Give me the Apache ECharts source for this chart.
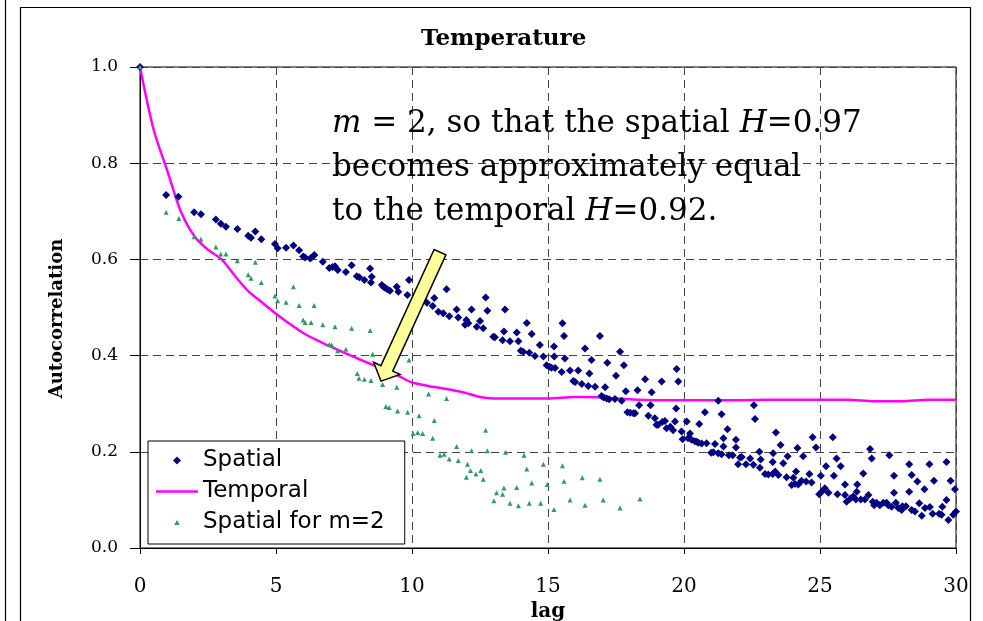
<!DOCTYPE html>
<html><head><meta charset="utf-8">
<script src="https://cdn.jsdelivr.net/npm/echarts@6/dist/echarts.min.js"></script>
<style>html,body{margin:0;padding:0;background:#fff}#c{width:983px;height:621px}</style>
</head><body><div id="c"></div>
<script>
// ---------- data ----------
const titleText = 'Temperature';
const xTickValues = [0, 5, 10, 15, 20, 25, 30];
const yTickLabels = ['0.0', '0.2', '0.4', '0.6', '0.8', '1.0'];

const lagSpatial = [0,0.96,1.41,1.99,2.24,2.79,2.97,3.16,3.58,3.98,4.08,4.24,4.46,4.96,5.06,5.37,5.64,5.85,6.00,6.07,6.26,6.35,6.41,6.72,6.96,7.08,7.17,7.27,7.57,7.78,7.97,8.06,8.25,8.46,8.49,8.52,8.89,8.95,9.01,9.09,9.19,9.44,9.50,9.83,9.89,10.3,10.55,10.76,10.82,10.97,11.15,11.27,11.37,11.64,11.70,11.95,12.00,12.07,12.19,12.38,12.50,12.62,12.71,12.77,12.99,13.05,13.33,13.38,13.42,13.60,13.85,13.91,14.00,14.09,14.22,14.31,14.40,14.52,14.70,14.83,14.95,15.05,15.13,15.22,15.23,15.26,15.50,15.53,15.59,15.62,15.81,15.93,16.00,16.11,16.24,16.36,16.48,16.52,16.60,16.73,16.91,16.97,17.05,17.10,17.16,17.18,17.25,17.46,17.50,17.65,17.71,17.79,17.86,17.92,18.02,18.14,18.20,18.29,18.35,18.57,18.69,18.77,18.81,18.93,18.99,19.05,19.18,19.20,19.30,19.36,19.50,19.60,19.67,19.71,19.73,19.79,19.91,19.95,20.10,20.15,20.22,20.28,20.40,20.47,20.53,20.56,20.65,20.77,20.83,21.00,21.08,21.14,21.26,21.26,21.38,21.38,21.45,21.45,21.60,21.65,21.79,21.91,21.91,21.99,22.06,22.12,22.28,22.43,22.55,22.57,22.61,22.77,22.79,22.82,22.98,23.10,23.26,23.26,23.28,23.35,23.38,23.47,23.55,23.65,23.77,23.81,23.96,24.02,24.08,24.12,24.17,24.20,24.32,24.38,24.49,24.61,24.69,24.73,24.85,24.97,25.03,25.06,25.18,25.22,25.31,25.47,25.51,25.61,25.64,25.76,25.92,25.92,25.98,26.12,26.22,26.32,26.35,26.37,26.50,26.59,26.65,26.78,26.84,26.90,26.94,26.99,27.08,27.20,27.33,27.45,27.51,27.55,27.63,27.72,27.72,27.79,27.88,28.00,28.03,28.16,28.28,28.28,28.37,28.37,28.49,28.58,28.65,28.74,28.84,28.86,29.02,29.04,29.14,29.19,29.38,29.47,29.50,29.65,29.65,29.72,29.80,29.90,29.96,30.00];
const valSpatial = [1.0,0.734,0.730,0.698,0.694,0.683,0.674,0.668,0.663,0.649,0.645,0.658,0.642,0.632,0.623,0.624,0.629,0.619,0.606,0.604,0.602,0.606,0.609,0.595,0.582,0.584,0.586,0.578,0.574,0.588,0.565,0.563,0.557,0.581,0.552,0.564,0.547,0.543,0.541,0.538,0.535,0.543,0.533,0.526,0.557,0.518,0.510,0.503,0.520,0.491,0.488,0.538,0.482,0.496,0.479,0.464,0.474,0.467,0.496,0.460,0.472,0.457,0.521,0.493,0.439,0.438,0.432,0.450,0.496,0.430,0.448,0.430,0.410,0.408,0.468,0.406,0.445,0.399,0.422,0.398,0.380,0.377,0.375,0.419,0.398,0.374,0.366,0.467,0.441,0.394,0.369,0.347,0.345,0.369,0.341,0.415,0.337,0.363,0.391,0.335,0.441,0.316,0.313,0.334,0.311,0.385,0.309,0.310,0.358,0.408,0.306,0.380,0.326,0.282,0.281,0.280,0.280,0.328,0.297,0.351,0.275,0.297,0.324,0.270,0.256,0.256,0.346,0.262,0.264,0.249,0.252,0.245,0.263,0.290,0.372,0.346,0.242,0.226,0.263,0.228,0.238,0.225,0.222,0.221,0.219,0.258,0.217,0.282,0.218,0.198,0.199,0.216,0.306,0.197,0.278,0.195,0.228,0.211,0.247,0.193,0.193,0.225,0.209,0.174,0.188,0.189,0.174,0.186,0.173,0.297,0.268,0.200,0.167,0.184,0.154,0.153,0.154,0.179,0.197,0.159,0.240,0.152,0.214,0.176,0.147,0.191,0.131,0.146,0.133,0.159,0.208,0.132,0.140,0.191,0.138,0.154,0.136,0.230,0.209,0.112,0.150,0.117,0.124,0.170,0.115,0.230,0.150,0.186,0.112,0.170,0.132,0.110,0.096,0.103,0.107,0.101,0.117,0.132,0.101,0.155,0.101,0.110,0.206,0.186,0.096,0.089,0.094,0.089,0.094,0.094,0.089,0.193,0.086,0.150,0.115,0.094,0.083,0.079,0.087,0.087,0.174,0.117,0.152,0.079,0.076,0.138,0.093,0.067,0.122,0.083,0.174,0.085,0.071,0.140,0.071,0.069,0.086,0.179,0.100,0.058,0.140,0.069,0.122,0.076];

const lagTemporal = [0,0.5,1,1.5,2,2.5,3,3.5,4,4.5,5,5.5,6,6.5,7,7.5,8,8.5,9,9.5,10,10.5,11,11.5,12,12.5,13,14,15,16,17,18,19,20,21,22,23,24,25,26,27,28,29,30];
const valTemporal = [1.0,0.87,0.785,0.70,0.648,0.62,0.60,0.565,0.533,0.51,0.487,0.466,0.447,0.432,0.419,0.406,0.394,0.382,0.370,0.358,0.344,0.338,0.333,0.328,0.322,0.314,0.311,0.311,0.311,0.314,0.313,0.309,0.307,0.307,0.307,0.307,0.308,0.308,0.308,0.308,0.305,0.305,0.308,0.308];

const lagM2 = [0,0.96,1.43,1.99,2.24,2.79,2.97,3.16,3.58,3.98,4.08,4.24,4.46,4.96,5.06,5.37,5.64,5.85,6.00,6.07,6.29,6.40,6.72,6.96,7.05,7.17,7.27,7.57,7.78,7.99,8.05,8.25,8.46,8.49,8.55,8.92,9.04,9.16,9.44,9.47,9.84,9.89,10.04,10.21,10.26,10.39,10.61,10.76,10.82,11.03,11.18,11.27,11.37,11.64,11.70,12.00,12.04,12.15,12.19,12.35,12.53,12.62,12.71,12.77,13.01,13.11,13.33,13.38,13.44,13.60,13.85,13.91,14.12,14.22,14.31,14.40,14.73,14.83,14.97,15.22,15.53,15.59,15.81,16.26,16.36,16.91,17.03,17.65,18.38];
const valM2 = [1.0,0.698,0.685,0.647,0.642,0.626,0.611,0.611,0.597,0.568,0.561,0.594,0.552,0.524,0.514,0.511,0.543,0.504,0.474,0.469,0.469,0.504,0.464,0.423,0.422,0.460,0.410,0.413,0.457,0.363,0.353,0.351,0.452,0.348,0.403,0.340,0.294,0.292,0.334,0.285,0.282,0.391,0.238,0.240,0.275,0.238,0.320,0.228,0.265,0.193,0.195,0.311,0.185,0.211,0.182,0.147,0.174,0.161,0.202,0.154,0.161,0.143,0.245,0.202,0.098,0.115,0.112,0.125,0.199,0.093,0.126,0.088,0.193,0.164,0.093,0.135,0.093,0.174,0.132,0.080,0.171,0.139,0.100,0.146,0.089,0.143,0.100,0.083,0.102];

const arrowTip = [8.86, 0.347];
const arrowTail = [11.03, 0.615];

// ---------- chart ----------
const zip = (a, b) => a.map((x, i) => [x, b[i]]);
const chart = echarts.init(document.getElementById('c'), null, {renderer: 'canvas'});
const serif = 'DejaVu Serif';

const option = {
  animation: false,
  backgroundColor: '#fff',
  title: {
    text: titleText, left: 421, top: 28, padding: 0,
    textStyle: {fontFamily: serif, fontWeight: 'bold', fontSize: 23, color: '#000'}
  },
  grid: {left: 140, right: 27, top: 67, bottom: 73, containLabel: false, outerBoundsMode: 'none',
    show: true, borderColor: '#000', borderWidth: 1, backgroundColor: 'transparent'},
  xAxis: {
    type: 'value', min: 0, max: 30, interval: 5,
    name: 'lag', nameLocation: 'middle', nameGap: 40,
    nameTextStyle: {fontFamily: serif, fontWeight: 'bold', fontSize: 20, color: '#000'},
    axisLine: {lineStyle: {color: '#000', width: 1}},
    axisTick: {show: true, length: 6, lineStyle: {color: '#000'}},
    axisLabel: {margin: 29, fontFamily: serif, fontSize: 20, color: '#000',
      formatter: v => xTickValues.includes(v) ? String(v) : ''},
    splitLine: {show: true, lineStyle: {color: '#444', type: [8, 5], width: 1}}
  },
  yAxis: {
    type: 'value', min: 0, max: 1, interval: 0.2,
    name: 'Autocorrelation', nameLocation: 'middle', nameGap: 74, nameRotate: 90,
    nameTextStyle: {fontFamily: serif, fontWeight: 'bold', fontSize: 18, color: '#000', padding: [0, 22, 0, 0]},
    axisLine: {show: true, lineStyle: {color: '#000', width: 1}},
    axisTick: {show: true, length: 10, lineStyle: {color: '#000'}},
    axisLabel: {margin: 22, fontFamily: serif, fontSize: 17, color: '#000',
      formatter: v => yTickLabels[Math.round(v / 0.2)]},
    splitLine: {show: true, lineStyle: {color: '#444', type: [8, 5], width: 1}}
  },
  legend: {
    orient: 'vertical', left: 148, top: 441,
    padding: [8, 20, 10, 8], itemGap: 8, itemWidth: 42, itemHeight: 16,
    borderColor: '#000', borderWidth: 1, backgroundColor: '#fff', borderRadius: 0,
    textStyle: {fontFamily: 'DejaVu Sans', fontSize: 23, color: '#000', lineHeight: 23},
    data: [
      {name: 'Spatial', icon: 'path://M0,0M16,16M8,4L12,8L8,12L4,8Z'},
      {name: 'Temporal', icon: 'path://M0,0M42,16M0,6.8L42,6.8L42,9.2L0,9.2Z'},
      {name: 'Spatial for m=2', icon: 'path://M0,0M16,16M8,5.5L10.8,10.5L5.2,10.5Z'}
    ]
  },
  series: [
    {name: 'Spatial', type: 'scatter', data: zip(lagSpatial, valSpatial), symbol: 'diamond', symbolSize: 8,
      itemStyle: {color: '#000080', opacity: 1}, z: 3},
    {name: 'Temporal', type: 'line', data: zip(lagTemporal, valTemporal), symbol: 'none', showSymbol: false,
      smooth: 0.3, lineStyle: {color: '#FF00FF', width: 2.5}, itemStyle: {color: '#FF00FF'}, z: 2},
    {name: 'Spatial for m=2', type: 'scatter', data: zip(lagM2, valM2), symbol: 'triangle', symbolSize: 5,
      itemStyle: {color: '#339966', opacity: 1}, z: 4}
  ]
};
chart.setOption(option);

// arrow + annotation + frame
const T = chart.convertToPixel({gridIndex: 0}, arrowTip);
const S = chart.convertToPixel({gridIndex: 0}, arrowTail);
const dx = T[0] - S[0], dy = T[1] - S[1], len = Math.hypot(dx, dy);
const u = [dx / len, dy / len], n = [-u[1], u[0]];
const w = 6.5, h = 14.5, L = 14;
const B = [T[0] - u[0] * L, T[1] - u[1] * L];
const P = (p, k) => [p[0] + n[0] * k, p[1] + n[1] * k];
const arrowPts = [P(S, w), P(B, w), P(B, h), T, P(B, -h), P(B, -w), P(S, -w)];

chart.setOption({
  graphic: [
    {type: 'line', shape: {x1: 5.5, y1: 0, x2: 5.5, y2: 621}, style: {stroke: '#000', lineWidth: 1.2}, z: 100},
    {type: 'rect', shape: {x: 20.5, y: 7.5, width: 950, height: 700}, style: {fill: 'none', stroke: '#000', lineWidth: 1.2}, z: 100},
    {type: 'text', left: 332, top: 102, z: 100,
      style: {
        text: '{i|m} = 2, so that the spatial {i|H}=0.97\nbecomes approximately equal\nto the temporal {i|H}=0.92.',
        fontFamily: serif, fontSize: 31, lineHeight: 44, fill: '#000',
        rich: {i: {fontFamily: serif, fontSize: 31, lineHeight: 44, fontStyle: 'italic'}}
      }},
    {type: 'polygon', z: 101, shape: {points: arrowPts},
      style: {fill: '#FFFF99', stroke: '#000', lineWidth: 1.5}}
  ]
});
</script></body></html>
